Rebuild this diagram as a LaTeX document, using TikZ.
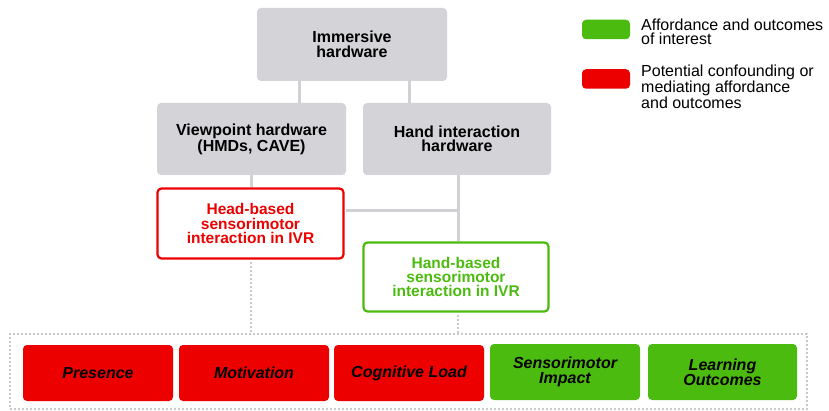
\documentclass[tikz,border=0pt]{standalone}
\usepackage{fontspec}
\setmainfont{Liberation Sans}
\definecolor{boxgrey}{RGB}{211,211,216}
\definecolor{linegrey}{RGB}{208,208,213}
\definecolor{dotgrey}{RGB}{200,200,205}
\definecolor{myred}{RGB}{236,0,0}
\definecolor{mygreen}{RGB}{76,187,16}
\tikzset{
  greybox/.style={fill=boxgrey, draw=none, rounded corners=4pt, inner sep=0pt, align=center,
    font=\bfseries\fontsize{16}{14.5}\selectfont},
  outlinebox/.style={fill=white, draw=#1, line width=2.2pt, rounded corners=4pt, inner sep=0pt, align=center,
    text=#1, font=\bfseries\fontsize{15.5}{14.3}\selectfont},
  outbox/.style={fill=#1, draw=none, rounded corners=4pt, inner sep=0pt, align=center,
    minimum width=150pt, minimum height=56pt,
    font=\bfseries\itshape\fontsize{16}{14.6}\selectfont},
  conn/.style={draw=linegrey, line width=3pt},
  dotconn/.style={draw=dotgrey, line width=2pt, dash pattern=on 2pt off 2pt},
  swatch/.style={fill=#1, draw=none, rounded corners=4pt, minimum width=48pt, minimum height=19.5pt, inner sep=0pt},
  legtext/.style={anchor=west, inner sep=0pt, align=left, font=\fontsize{16}{#1}\selectfont},
}
\begin{document}
\begin{tikzpicture}[x=1pt,y=-1pt]
\useasboundingbox (0,0) rectangle (829,411);
% top boxes
\node[greybox, minimum width=190pt, minimum height=73pt] (imm) at (352,44.5) {Immersive\\hardware};
\node[greybox, minimum width=189pt, minimum height=72pt] (view) at (251.5,139) {Viewpoint hardware\\(HMDs, CAVE)};
\node[greybox, minimum width=188pt, minimum height=72pt] (hand) at (457,139) {Hand interaction\\hardware};
\node[outlinebox=myred, minimum width=186pt, minimum height=70pt] (head) at (250.5,223.5) {Head-based\\sensorimotor\\interaction in IVR};
\node[outlinebox=mygreen, minimum width=185pt, minimum height=69pt] (handb) at (456,277) {Hand-based\\sensorimotor\\interaction in IVR};
% container
\node[draw=dotgrey, line width=2pt, dash pattern=on 2pt off 2pt, minimum width=797pt, minimum height=75pt, inner sep=0pt] (cont) at (408.5,371.5) {};
% outcome boxes
\node[outbox=myred] (pres) at (98,373) {Presence};
\node[outbox=myred] (mot) at (254,373) {Motivation};
\node[outbox=myred] (cog) at (409,373) {Cognitive Load};
\node[outbox=mygreen] (sens) at (565,372) {Sensorimotor\\Impact};
\node[outbox=mygreen, minimum width=149pt] (learn) at (722.5,372) {Learning\\Outcomes};
% connectors
\coordinate (hx) at ([xshift=1pt]hand.south);
\coordinate (jn) at ([yshift=12.5pt]head.east);
\draw[conn] ([xshift=-53pt]imm.south) -- ([xshift=-53pt]imm.south |- view.north);
\draw[conn] ([xshift=57pt]imm.south) -- ([xshift=57pt]imm.south |- hand.north);
\draw[conn] (view.south) -- (view.south |- head.north);
\draw[conn] (hx) -- (hx |- handb.north);
\draw[conn] ([xshift=1.1pt]jn) -- (jn -| hx);
\draw[dotconn] ([yshift=-2pt]head.south) -- (head.south |- cont.north);
\draw[dotconn] ([yshift=-2pt,xshift=2pt]handb.south) -- ([xshift=2pt]handb.south |- cont.north);
% legend
\node[swatch=mygreen] (lg) at (606,29.5) {};
\node[swatch=myred] (lr) at (606,79) {};
\node[legtext=14.5] (lgt) at (641,32) {Affordance and outcomes\\of interest};
\node[legtext=14] (lrt) at (641,87) {Potential confounding or\\mediating affordance\\and outcomes};
\end{tikzpicture}
\end{document}
